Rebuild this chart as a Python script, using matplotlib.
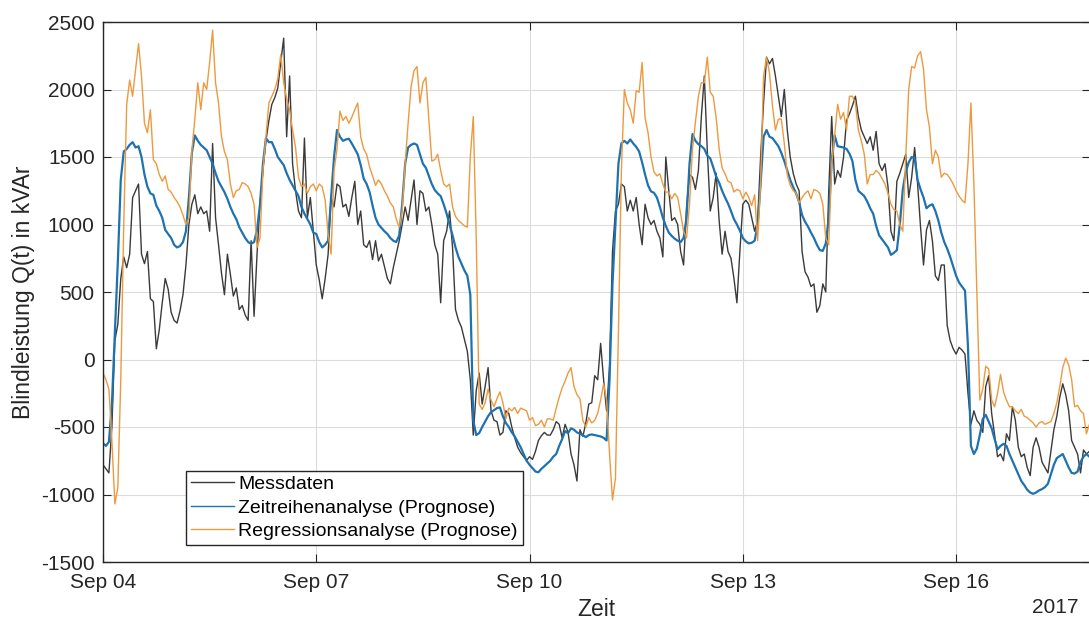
import pandas as pd
import matplotlib
matplotlib.use('Agg')
import matplotlib.pyplot as plt
import matplotlib.dates as mdates

# Stundenwerte ab 04.09.2017 00:00 (kVAr), je Zeile ein Tag
start = '2017-09-04 00:00'

messdaten = [
    -780, -810, -840, -500, 140, 260, 600, 760, 680, 780, 1200, 1250, 1300, 780, 710, 800, 450, 430, 80, 220, 420, 600, 520, 350,
    290, 270, 360, 480, 700, 1000, 1150, 1220, 1080, 1130, 1080, 1100, 950, 1600, 1050, 850, 640, 480, 780, 630, 470, 530, 370, 400,
    330, 290, 880, 320, 780, 1150, 1400, 1620, 1770, 1890, 1940, 2010, 2200, 2380, 1650, 2100, 1450, 1250, 1100, 1050, 1640, 1050, 1200, 950,
    700, 590, 450, 600, 780, 1200, 1130, 1300, 1280, 1130, 1150, 1060, 1200, 1320, 1000, 1100, 850, 830, 880, 740, 880, 730, 780, 690,
    600, 560, 680, 780, 880, 1000, 1130, 1030, 1180, 1330, 1000, 1250, 1230, 1100, 1130, 1000, 850, 780, 420, 880, 950, 1100, 830, 370,
    290, 240, 150, 60, -150, -560, -230, -100, -330, -200, -60, -380, -450, -460, -560, -540, -380, -400, -500, -580, -650, -690, -720, -748,
    -720, -740, -680, -600, -565, -540, -560, -560, -520, -460, -480, -580, -480, -540, -700, -780, -900, -520, -570, -470, -330, -320, -120, -150,
    120, -150, -380, -50, 800, 1100, 1150, 1300, 1280, 1100, 1180, 1100, 1200, 1000, 850, 1150, 1050, 1000, 1030, 950, 900, 760, 1500, 1250,
    1030, 1050, 1000, 800, 700, 1130, 1370, 1350, 1260, 1400, 1800, 2100, 1550, 1100, 1200, 1380, 1030, 780, 950, 800, 750, 600, 420, 800,
    1150, 1180, 1150, 1050, 950, 1030, 1500, 1900, 2240, 2190, 2230, 2100, 1950, 1800, 2000, 1700, 1500, 1380, 1300, 1250, 800, 650, 610, 540,
    560, 350, 400, 560, 500, 1250, 1800, 1300, 1400, 1350, 1500, 1770, 1820, 1880, 1950, 1800, 1700, 1650, 1600, 1650, 1550, 1690, 1450, 1400,
    1450, 1280, 950, 880, 1320, 1380, 1450, 1520, 1200, 1350, 1570, 1300, 980, 700, 960, 1030, 880, 620, 585, 700, 700, 250, 140, 80,
    40, 90, 70, 40, -250, -480, -380, -450, -480, -540, -200, -120, -400, -560, -720, -700, -750, -550, -600, -350, -450, -650, -720, -700,
    -800, -860, -650, -580, -650, -760, -800, -840, -680, -520, -420, -280, -180, -260, -380, -600, -650, -700, -840, -670, -700, -680,
]

zeitreihe = [
    -620, -640, -610, -330, 190, 720, 1330, 1540, 1560, 1590, 1610, 1570, 1580, 1500, 1370, 1280, 1230, 1220, 1140, 1100, 1050, 960, 930, 900,
    850, 830, 840, 870, 950, 1200, 1530, 1660, 1620, 1590, 1570, 1550, 1500, 1450, 1380, 1320, 1280, 1240, 1190, 1130, 1080, 1040, 980, 940,
    900, 870, 857, 870, 960, 1150, 1450, 1640, 1610, 1610, 1560, 1500, 1470, 1440, 1380, 1330, 1290, 1250, 1210, 1130, 1080, 1040, 1000, 940,
    930, 870, 830, 850, 880, 1200, 1500, 1700, 1650, 1620, 1630, 1635, 1600, 1560, 1520, 1440, 1340, 1300, 1240, 1140, 1050, 1000, 975, 950,
    930, 900, 880, 870, 920, 1150, 1450, 1570, 1590, 1600, 1590, 1520, 1450, 1420, 1360, 1300, 1255, 1230, 1210, 1150, 1080, 1000, 920, 830,
    760, 710, 660, 620, 480, -450, -560, -545, -500, -460, -420, -390, -375, -360, -355, -420, -470, -500, -540, -570, -610, -650, -700, -750,
    -780, -805, -830, -835, -810, -790, -770, -750, -720, -700, -640, -590, -530, -545, -510, -520, -540, -550, -560, -575, -560, -555, -560, -565,
    -570, -580, -600, -150, 560, 1000, 1450, 1600, 1620, 1600, 1630, 1600, 1575, 1540, 1460, 1370, 1290, 1245, 1235, 1200, 1130, 1050, 990, 940,
    915, 895, 880, 870, 900, 1050, 1450, 1670, 1620, 1595, 1580, 1560, 1510, 1490, 1425, 1355, 1310, 1250, 1200, 1155, 1100, 1040, 1000, 956,
    900, 875, 860, 865, 880, 1000, 1300, 1650, 1700, 1650, 1640, 1610, 1580, 1530, 1470, 1400, 1330, 1277, 1230, 1165, 1070, 1020, 985, 940,
    900, 850, 810, 805, 860, 1050, 1470, 1660, 1580, 1575, 1570, 1560, 1525, 1470, 1330, 1250, 1230, 1210, 1170, 1120, 1080, 990, 920, 890,
    860, 830, 775, 790, 810, 1000, 1260, 1390, 1460, 1500, 1490, 1330, 1260, 1200, 1120, 1140, 1150, 1100, 1030, 940, 870, 820, 760, 690,
    620, 570, 540, 510, 100, -640, -700, -660, -560, -440, -410, -460, -510, -590, -665, -640, -625, -640, -700, -750, -800, -850, -900, -930,
    -965, -985, -995, -985, -970, -960, -945, -920, -850, -780, -730, -715, -700, -750, -800, -840, -845, -830, -760, -720, -700, -720,
]

regression = [
    -100, -150, -220, -600, -1070, -950, -150, 1000, 1890, 2070, 1950, 2150, 2340, 2100, 1750, 1680, 1850, 1480, 1450, 1370, 1320, 1360, 1260, 1240,
    1200, 1170, 1130, 1070, 1000, 1050, 1550, 1780, 2050, 1850, 2050, 2000, 2200, 2440, 2050, 1900, 1650, 1540, 1480, 1300, 1200, 1250, 1260, 1310,
    1300, 1280, 1230, 1150, 830, 900, 1400, 1650, 1900, 1950, 2000, 2080, 2260, 2050, 1930, 1850, 1700, 1570, 1350, 1280, 1300, 1230, 1280, 1300,
    1250, 1300, 1280, 1180, 930, 780, 1400, 1560, 1840, 1770, 1800, 1750, 1795, 1850, 1900, 1650, 1560, 1520, 1425, 1360, 1290, 1330, 1300, 1250,
    1210, 1160, 1130, 1040, 980, 1100, 1450, 1750, 2020, 2140, 2170, 1900, 2050, 2090, 1780, 1470, 1480, 1520, 1400, 1300, 1280, 1300, 1130, 1060,
    1030, 1010, 990, 980, 1500, 1800, 900, -330, -370, -320, -220, -300, -350, -290, -240, -320, -440, -360, -380, -355, -400, -360, -370, -380,
    -450, -430, -490, -480, -450, -500, -440, -440, -450, -360, -280, -210, -160, -100, -60, -200, -260, -290, -450, -500, -430, -470, -450, -400,
    -300, -180, -300, -700, -1040, -880, 200, 1400, 2000, 1900, 1850, 1750, 1990, 1980, 2200, 1790, 1680, 1500, 1390, 1360, 1375, 1300, 1240, 1240,
    1190, 1230, 1200, 1080, 950, 900, 1150, 1560, 1760, 1950, 2050, 2050, 2240, 1980, 1950, 1790, 1560, 1420, 1375, 1320, 1310, 1240, 1260, 1250,
    1190, 1240, 1200, 1140, 1220, 880, 1300, 2100, 2240, 2120, 1880, 1700, 1780, 1780, 1600, 1370, 1290, 1252, 1230, 1160, 1200, 1230, 1250, 1190,
    1260, 1250, 1230, 1150, 900, 850, 1450, 1660, 1890, 1780, 1830, 1700, 1950, 1950, 1900, 1700, 1620, 1520, 1300, 1370, 1370, 1400, 1380, 1340,
    1300, 1230, 1150, 1110, 1100, 1000, 950, 1500, 2000, 2170, 2160, 2250, 2280, 2150, 1850, 1720, 1450, 1550, 1500, 1350, 1380, 1370, 1340, 1300,
    1250, 1210, 1180, 1160, 1450, 1900, 1300, 500, -300, -220, -50, -70, -300, -350, -250, -110, -240, -300, -350, -350, -380, -400, -370, -420,
    -430, -450, -470, -500, -470, -460, -480, -470, -460, -400, -320, -200, -60, 10, -40, -150, -350, -340, -380, -400, -550, -480,
]

labels = ['Messdaten', 'Zeitreihenanalyse (Prognose)', 'Regressionsanalyse (Prognose)']
yticks = [-1500, -1000, -500, 0, 500, 1000, 1500, 2000, 2500]
xtick_tage = ['2017-09-04', '2017-09-07', '2017-09-10', '2017-09-13', '2017-09-16']

zeit = pd.date_range(start, periods=len(messdaten), freq='h')

plt.rcParams['font.family'] = ['Liberation Sans', 'DejaVu Sans']
plt.rcParams['axes.unicode_minus'] = False
dunkel = '#262626'

fig = plt.figure(figsize=(10.89, 6.21), dpi=100)
ax = fig.add_axes([103 / 1089, 59 / 621, 987 / 1089, 540 / 621])

ax.plot(zeit, messdaten, color='#3a3a3a', lw=1.0, label=labels[0])
ax.plot(zeit, zeitreihe, color='#1f72b0', lw=1.6, label=labels[1])
ax.plot(zeit, regression, color='#EC9A3F', lw=1.0, label=labels[2])

ax.set_ylim(-1500, 2500)
ax.set_yticks(yticks)
ax.set_xlim(zeit[0], zeit[0] + pd.Timedelta(hours=333.2))
ax.set_xticks(pd.to_datetime(xtick_tage))
ax.xaxis.set_major_formatter(mdates.DateFormatter('%b %d'))

ax.grid(True, color='#dcdcdc', lw=0.8)
ax.set_axisbelow(True)
ax.tick_params(direction='in', length=6, width=0.8, top=True, right=True,
               labelsize=15, colors=dunkel)
ax.tick_params(axis='x', pad=8)
ax.tick_params(axis='y', pad=6)
for s in ax.spines.values():
    s.set_color(dunkel)
    s.set_linewidth(1.0)

ax.set_xlabel('Zeit', fontsize=16.5, color=dunkel)
ax.xaxis.set_label_coords(0.5, -0.066)
ax.set_ylabel('Blindleistung Q(t) in kVAr', fontsize=16.5, color=dunkel)
ax.yaxis.set_label_coords(-0.069, 0.5)
ax.text(0.988, -0.085, '2017', transform=ax.transAxes, ha='right', va='center',
        fontsize=15, color=dunkel)

leg = ax.legend(loc='lower left', bbox_to_anchor=(186 / 1089, 76 / 621),
                bbox_transform=fig.transFigure, fontsize=14, frameon=True,
                fancybox=False, edgecolor=dunkel, framealpha=1, borderpad=0.25,
                labelspacing=0.3, handlelength=2.2, handletextpad=0.25,
                borderaxespad=0)
leg.get_frame().set_linewidth(1.0)
# Legendenlinien dünn wie im Original
for line in leg.get_lines():
    line.set_linewidth(1.0)

fig.savefig('out.png', dpi=100)
